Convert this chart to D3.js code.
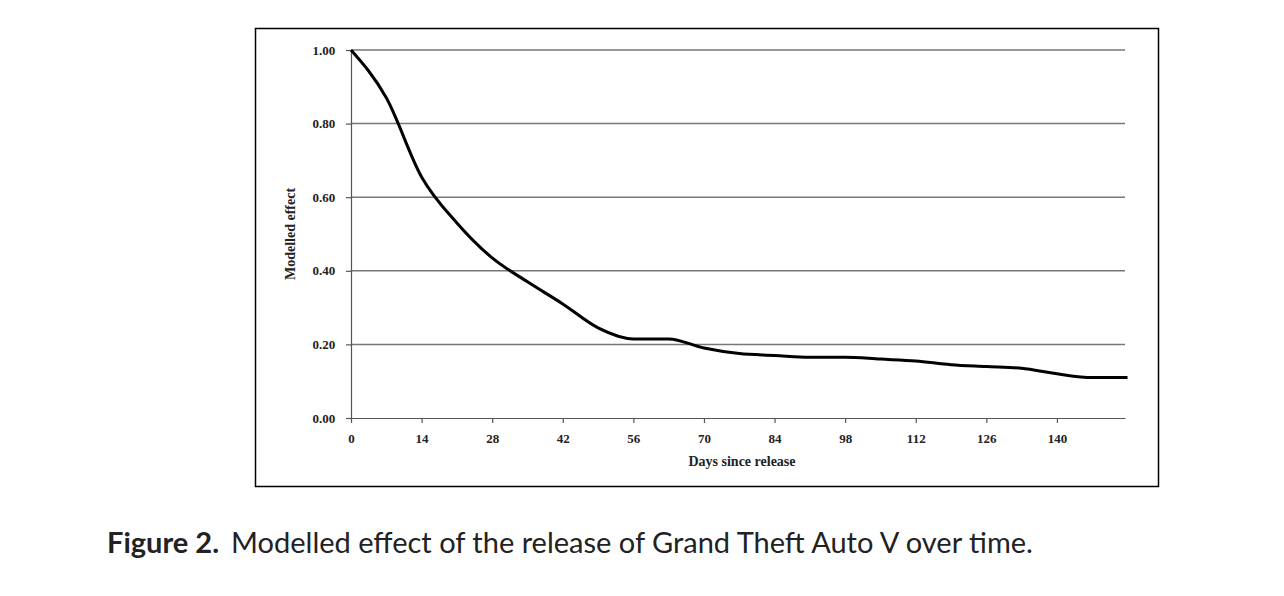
<!DOCTYPE html>
<html>
<head>
<meta charset="utf-8">
<script src="https://cdn.jsdelivr.net/npm/d3@7"></script>
<style>
body { margin: 0; background: #fff; }
</style>
</head>
<body>
<svg id="chart" width="1284" height="596"></svg>
<script>
// days since release and modelled effect
var days = [0, 7, 14, 21, 28, 35, 42, 49, 56, 63, 70, 77, 84, 91, 98, 105, 112, 119, 126, 133, 140, 147, 154];
var effect = [1.0, 0.87, 0.655, 0.53, 0.435, 0.37, 0.31, 0.245, 0.215, 0.215, 0.19, 0.175, 0.17, 0.165, 0.165, 0.16, 0.155, 0.145, 0.14, 0.135, 0.12, 0.11, 0.11];
var xTicks = [0, 14, 28, 42, 56, 70, 84, 98, 112, 126, 140];
var yTicks = [0, 0.2, 0.4, 0.6, 0.8, 1.0];

var svg = d3.select("#chart");
var serif = "'Liberation Serif', 'DejaVu Serif', serif";

// outer frame
svg.append("rect").attr("x", 255.5).attr("y", 28.5).attr("width", 903).attr("height", 458)
    .attr("fill", "none").attr("stroke", "#000").attr("stroke-width", 1.5);

var x = d3.scaleLinear().domain([0, 153.5]).range([351, 1125]);
var y = d3.scaleLinear().domain([0, 1]).range([418, 50]);

// gridlines
svg.append("g").selectAll("line").data(yTicks.filter(d => d > 0)).join("line")
    .attr("x1", x(0)).attr("x2", x(153.5))
    .attr("y1", d => y(d)).attr("y2", d => y(d))
    .attr("stroke", "#777").attr("stroke-width", 1.5);

var xAxis = svg.append("g").attr("transform", "translate(0," + y(0) + ")")
    .call(d3.axisBottom(x).tickValues(xTicks).tickSize(5).tickSizeOuter(0));
var yAxis = svg.append("g").attr("transform", "translate(" + x(0) + ",0)")
    .call(d3.axisLeft(y).tickValues(yTicks).tickFormat(d3.format(".2f")).tickSize(5).tickSizeOuter(0));

[xAxis, yAxis].forEach(function(a) {
    a.selectAll("path, line").attr("stroke", "#555").attr("stroke-width", 1.2);
    a.selectAll("text").attr("font-family", serif).attr("font-weight", "bold")
        .attr("font-size", 13).attr("fill", "#222");
});
xAxis.selectAll("text").attr("dy", "1.3em");
yAxis.selectAll("text").attr("dx", "-0.6em");

svg.append("text").attr("x", 742).attr("y", 466).attr("text-anchor", "middle")
    .attr("font-family", serif).attr("font-weight", "bold").attr("font-size", 14)
    .attr("fill", "#222").text("Days since release");
svg.append("text").attr("transform", "translate(295,234) rotate(-90)").attr("text-anchor", "middle")
    .attr("font-family", serif).attr("font-weight", "bold").attr("font-size", 14)
    .attr("fill", "#222").text("Modelled effect");

var line = d3.line().curve(d3.curveMonotoneX).x((d, i) => x(days[i])).y(d => y(d));
svg.append("path").datum(effect).attr("d", line)
    .attr("fill", "none").attr("stroke", "#000").attr("stroke-width", 3);

// caption
var cap = svg.append("text").attr("x", 107).attr("y", 553)
    .attr("font-family", "Lato, 'Open Sans', sans-serif").attr("font-size", 29).attr("fill", "#222");
cap.append("tspan").attr("font-weight", "bold").text("Figure 2.");
cap.append("tspan").attr("dx", 12).text("Modelled effect of the release of Grand Theft Auto V over time.");
</script>
</body>
</html>
